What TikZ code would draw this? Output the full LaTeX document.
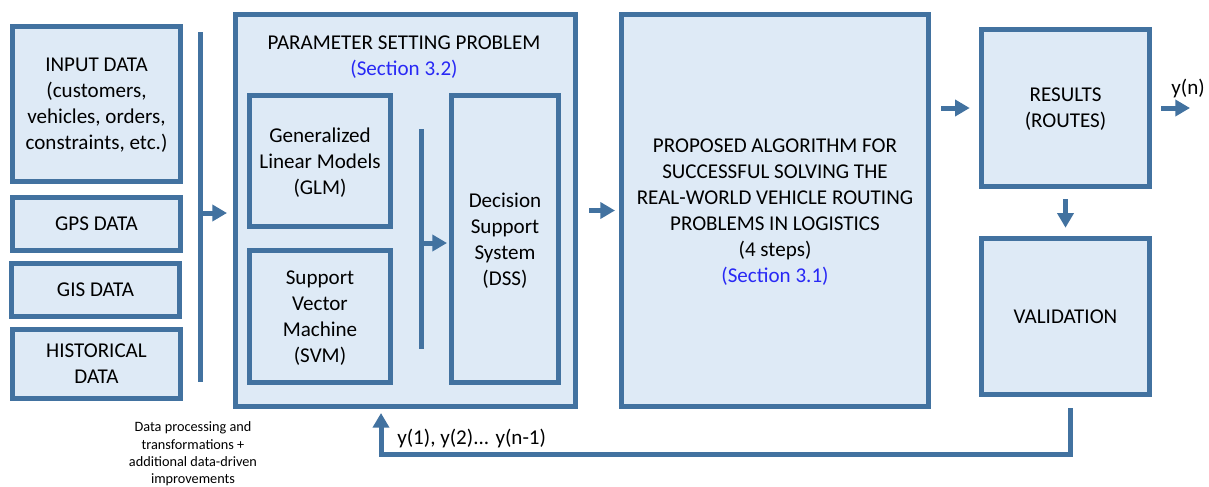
\documentclass[tikz,border=0pt]{standalone}
\usepackage{fontspec}
\setmainfont{Carlito}
\usetikzlibrary{arrows.meta}
\definecolor{boxline}{RGB}{66,114,160}
\definecolor{boxfill}{RGB}{222,234,246}
\definecolor{seclink}{RGB}{40,40,245}

\begin{document}
\begin{tikzpicture}[x=0.75pt,y=0.75pt,font=\fontsize{15.8}{19.5}\selectfont]
\tikzstyle{every node}+=[inner sep=0pt]
\tikzstyle{box}=[draw=boxline, fill=boxfill, line width=3.75pt, align=center, text depth=0pt]
\tikzstyle{bar}=[draw=boxline, line width=3.75pt]
\tikzstyle{flow}=[draw=boxline, line width=3.75pt, -{Triangle[length=11pt,width=12pt]}]
\useasboundingbox (0,0) rectangle (1209,-486);
% data sources
\node [box, minimum width=126pt, minimum height=116.25pt] (input) at (96.5,-104) {INPUT DATA\\(customers,\\vehicles, orders,\\constraints, etc.)};
\node [box, minimum width=126pt, minimum height=39.75pt] (gps) at (96.5,-224) {GPS DATA};
\node [box, minimum width=126pt, minimum height=39.75pt] (gis) at (95.5,-290) {GIS DATA};
\node [box, minimum width=126pt, minimum height=51.75pt] (hist) at (96.5,-364) {HISTORICAL\\DATA};
\coordinate (bar1a) at (200,-32);
\coordinate (bar1b) at (200,-382);
\coordinate (in1) at (200,-213);
\draw [bar] (bar1a) -- (bar1b);
\node [align=center, font=\fontsize{10.7}{13}\selectfont] (note) at (193,-454) {Data processing and\\transformations +\\additional data-driven\\improvements};
% parameter setting
\node [box, minimum width=255pt, minimum height=294pt] (param) at (405.5,-210.5) {};
\node [align=center] (paramtitle) at (404,-57) {PARAMETER SETTING PROBLEM\\{\color{seclink}(Section 3.2)}};
\node [box, minimum width=105.75pt, minimum height=98.25pt] (glm) at (320,-161) {Generalized\\Linear Models\\(GLM)};
\node [box, minimum width=105.75pt, minimum height=99pt] (svm) at (320,-316.5) {Support\\Vector\\Machine\\(SVM)};
\node [box, minimum width=80.25pt, minimum height=215.25pt] (dss) at (505,-239) {Decision\\Support\\System\\(DSS)};
\coordinate (bar2a) at (421,-129);
\coordinate (bar2b) at (421,-349);
\coordinate (in2) at (421,-243);
\draw [bar] (bar2a) -- (bar2b);
\draw [flow, shorten >=4.5pt] (in1) -- (in1 -| param.west);
\draw [flow, shorten >=1.5pt] (in2) -- (in2 -| dss.west);
% algorithm and results
\node [box, minimum width=230.25pt, minimum height=294pt] (algo) at (775,-210.5) {PROPOSED ALGORITHM FOR\\SUCCESSFUL SOLVING THE\\REAL-WORLD VEHICLE ROUTING\\PROBLEMS IN LOGISTICS\\(4 steps)\\{\color{seclink}(Section 3.1)}};
\node [box, minimum width=126.4pt, minimum height=118.1pt] (results) at (1065.5,-108) {RESULTS\\(ROUTES)};
\node [box, minimum width=126.4pt, minimum height=117.4pt] (valid) at (1065.5,-316.5) {VALIDATION};
\coordinate (out) at (1190,-108);
\coordinate (fb) at (381,-454);
\draw [flow, shorten <=8.25pt, shorten >=3pt] (param.east) -- (algo.west);
\draw [flow, shorten <=7.5pt, shorten >=6.75pt] (algo.east |- results.west) -- (results.west);
\draw [flow, shorten <=6.75pt] (results.east) -- (out);
\node (yn) at (1188,-88) {y(n)};
\draw [flow, shorten <=7.5pt, shorten >=6pt] (results.south) -- (valid.north);
\draw [flow, shorten <=8.25pt, shorten >=3pt] ([xshift=3.4pt]valid.south) |- (fb) -- (fb |- param.south);
\node [anchor=west] (fblabel) at (397,-438) {y(1), y(2)... y(n-1)};
\end{tikzpicture}
\end{document}
